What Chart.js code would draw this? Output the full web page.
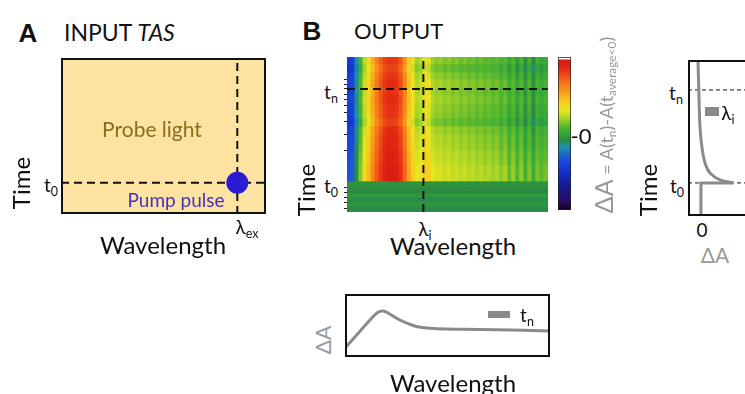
<!DOCTYPE html>
<html>
<head>
<meta charset="utf-8">
<script src="https://cdn.jsdelivr.net/npm/chart.js"></script>
<style>
    html, body { margin: 0; padding: 0; width: 745px; height: 394px; overflow: hidden; background: #fff; }
    body { position: relative; font-family: Lato, "Open Sans", sans-serif; color: #111; }
    .wrap { position: absolute; }
    .lbl { position: absolute; white-space: nowrap; line-height: 1; transform: translate(-50%, -50%); }
    .left { transform: translate(0, -50%); }
    .rot { transform: translate(-50%, -50%) rotate(-90deg); }
    .patch { position: absolute; background: #8a8a8a; }
    sub { font-size: 0.66em; vertical-align: -0.32em; line-height: 0; }
</style>
</head>
<body>
<div class="wrap" style="left:61px;top:58px"><canvas id="chartA" width="205" height="156"></canvas></div>
<div class="wrap" style="left:341px;top:57px"><canvas id="chartHeat" width="207" height="155"></canvas></div>
<div class="wrap" style="left:558px;top:57px"><canvas id="chartBar" width="13" height="153"></canvas></div>
<div class="wrap" style="left:688px;top:60px"><canvas id="chartKin" width="110" height="156"></canvas></div>
<div class="wrap" style="left:345px;top:294px"><canvas id="chartSpec" width="205" height="63"></canvas></div>

<script>
// ---- data ----
// panel A (input): wavelength / time in arbitrary units 0..100
var pumpWavelength = 86;   // lambda_ex
var pumpTime = 20;         // t0

// panel B heatmap: Delta A per wavelength column (late-time spectrum, -1..1, 0 = green)
var heatColumns = [-0.40, -0.38, -0.15, 0.08, 0.26, 0.38, 0.52, 0.64, 0.74, 0.82,
                   0.86, 0.86, 0.84, 0.76, 0.62, 0.45, 0.32, 0.22, 0.25, 0.33,
                   0.30, 0.22, 0.19, 0.20, 0.17, 0.19, 0.16, 0.18, 0.15, 0.17,
                   0.14, 0.16, 0.13, 0.15, 0.12, 0.14, 0.11, 0.13, 0.08, 0.12,
                   0.03, 0.10, 0.00, 0.09, -0.03, 0.07, -0.05, 0.06, 0.02, 0.05];
// time rows after t0 (time axis: t0 = 0) and their Delta A change
var heatRowEdges = [0, 8, 16, 23, 31, 39, 47, 55, 63, 70, 78, 86, 94, 102, 109, 117, 125];
var heatRowShift = [0.08, 0.08, 0.06, 0.05, 0.03, 0.02, 0.00, -0.06, -0.03, -0.02,
                    0.00, -0.02, 0.00, -0.03, -0.07, -0.03];
// time rows before t0 (no signal, flat bands)
var preRowEdges = [-30, -25, -20, -16, -12, -6, 0];
var preRowValues = [-0.09, -0.05, -0.09, -0.04, -0.08, -0.06];
var heatTimeTicks = [103, 98, 93, 88, 83, 77, 70, 61, 48, 32, -5, -10, -15, -20, -26];
var heatTn = 93;
var heatLambda = 38;

// colour scale of the colorbar
var jetStops = [
    [-1.00, '#14001c'], [-0.90, '#2a0a60'], [-0.70, '#141a8c'], [-0.50, '#1030c8'],
    [-0.35, '#1a4ae0'], [-0.18, '#1a90b0'], [-0.08, '#2c8a40'], [0.00, '#34a838'],
    [0.10, '#5cb82e'], [0.20, '#a8d428'], [0.30, '#e8e620'], [0.42, '#f8c820'],
    [0.55, '#f89a1c'], [0.70, '#f26418'], [0.85, '#e42a14'], [0.96, '#d81812'],
    [0.975, '#ffffff'], [1.00, '#ffffff']
];

// panel B right: kinetic trace at lambda_i (x = Delta A, y = time 0..100)
var kinStepX = [0, 0, 1.0];
var kinStepY = [0, 21.2, 21.2];
var kinDecayX = [1.0, 0.59, 0.28, 0.125, 0.03, -0.03, -0.06, -0.09];
var kinDecayY = [21.2, 23.1, 27.6, 34.0, 44.2, 57.1, 76.3, 98.7];
var kinT0 = 21.2, kinTn = 80.8;

// panel B bottom: spectrum at t_n (x = wavelength 0..100, y = Delta A 0..100)
var specX = [0, 5.7, 12.2, 16.1, 18.7, 22.0, 26.8, 31.7, 36.6, 44.7, 57.6, 74.0, 100];
var specY = [14.3, 34.9, 58.7, 71.0, 73.0, 67.8, 58.7, 51.9, 47.1, 44.9, 44.0, 43.3, 41.3];

// ---- helpers ----
function hexRgb(h) {
    return [parseInt(h.substr(1, 2), 16), parseInt(h.substr(3, 2), 16), parseInt(h.substr(5, 2), 16)];
}
function jet(v) {
    if (v <= jetStops[0][0]) return jetStops[0][1];
    for (var i = 1; i < jetStops.length; i++) {
        if (v <= jetStops[i][0]) {
            var a = hexRgb(jetStops[i - 1][1]), b = hexRgb(jetStops[i][1]);
            var f = (v - jetStops[i - 1][0]) / (jetStops[i][0] - jetStops[i - 1][0]);
            return 'rgb(' + [0, 1, 2].map(function (k) { return Math.round(a[k] + (b[k] - a[k]) * f); }).join(',') + ')';
        }
    }
    return jetStops[jetStops.length - 1][1];
}
function pts(xs, ys) {
    return xs.map(function (x, i) { return {x: x, y: ys[i]}; });
}

// fills the plot area and draws the frame
var boxPlugin = {
    id: 'box',
    beforeDraw: function (chart, args, opts) {
        var a = chart.chartArea;
        if (opts.fill) {
            chart.ctx.save();
            chart.ctx.fillStyle = opts.fill;
            chart.ctx.fillRect(a.left, a.top, a.right - a.left, a.bottom - a.top);
            chart.ctx.restore();
        }
    },
    afterDraw: function (chart, args, opts) {
        var a = chart.chartArea;
        if (opts.width) {
            var w = opts.width;
            chart.ctx.save();
            chart.ctx.strokeStyle = opts.color || '#111';
            chart.ctx.lineWidth = w;
            chart.ctx.strokeRect(a.left + w / 2, a.top + w / 2, a.right - a.left - w, a.bottom - a.top - w);
            chart.ctx.restore();
        }
    }
};

var base = {
    responsive: false,
    animation: false,
    events: [],
    layout: {padding: 0, autoPadding: false},
    plugins: {legend: {display: false}, tooltip: {enabled: false}}
};
function opts(extra) {
    return Object.assign({}, base, extra, {plugins: Object.assign({}, base.plugins, extra.plugins || {})});
}
function dashed(data, width, dash, xId, yId) {
    var d = {type: 'line', data: data, borderColor: '#111', borderWidth: width, borderDash: dash,
             pointRadius: 0, fill: false, tension: 0, order: 0};
    if (xId) d.xAxisID = xId;
    if (yId) d.yAxisID = yId;
    return d;
}

// ---- panel A ----
new Chart(document.getElementById('chartA'), {
    type: 'scatter',
    data: {
        datasets: [
            {data: [{x: pumpWavelength, y: pumpTime}], pointRadius: 11, backgroundColor: '#2b1cd4', borderWidth: 0},
            dashed([{x: 0, y: pumpTime}, {x: 100, y: pumpTime}], 2, [8, 5]),
            dashed([{x: pumpWavelength, y: 0}, {x: pumpWavelength, y: 100}], 2, [8, 5])
        ]
    },
    options: opts({
        scales: {x: {type: 'linear', min: 0, max: 100, display: false}, y: {min: 0, max: 100, display: false}},
        plugins: {box: {fill: '#fce3a2', width: 2, color: '#111'}}
    }),
    plugins: [boxPlugin]
});

// ---- panel B heatmap ----
var heatSets = [];
preRowValues.forEach(function (val, j) {
    heatSets.push({
        data: heatColumns.map(function () { return [preRowEdges[j], preRowEdges[j + 1]]; }),
        backgroundColor: jet(val)
    });
});
heatRowShift.forEach(function (shift, j) {
    heatSets.push({
        data: heatColumns.map(function () { return [heatRowEdges[j], heatRowEdges[j + 1]]; }),
        backgroundColor: heatColumns.map(function (v) { return jet(v + shift); })
    });
});
heatSets.forEach(function (d) {
    d.type = 'bar';
    d.grouped = false;
    d.barPercentage = 1;
    d.categoryPercentage = 1;
    d.borderWidth = 0;
    d.inflateAmount = 0.6;
    d.order = 1;
});
heatSets.push(dashed([{x: 0, y: heatTn}, {x: 100, y: heatTn}], 2, [8, 5], 'xw', 'y'));
heatSets.push(dashed([{x: heatLambda, y: -30}, {x: heatLambda, y: 125}], 2, [8, 5], 'xw', 'y'));

new Chart(document.getElementById('chartHeat'), {
    type: 'bar',
    data: {labels: heatColumns.map(function (v, i) { return i; }), datasets: heatSets},
    options: opts({
        scales: {
            x: {type: 'category', display: false, offset: true},
            xw: {type: 'linear', axis: 'x', min: 0, max: 100, display: false, offset: false, grid: {offset: false}},
            y: {
                type: 'linear', min: -30, max: 125, position: 'left',
                grid: {drawOnChartArea: false, drawTicks: true, tickLength: 3, color: '#222'},
                border: {display: true, color: '#444', width: 1},
                ticks: {display: false},
                afterBuildTicks: function (s) { s.ticks = heatTimeTicks.map(function (v) { return {value: v}; }); },
                afterFit: function (s) { s.width = 6; }
            }
        }
    })
});

// ---- colorbar ----
new Chart(document.getElementById('chartBar'), {
    type: 'bar',
    data: {
        labels: ['dA'],
        datasets: [{
            data: [[-1, 1]],
            barPercentage: 1,
            categoryPercentage: 1,
            borderWidth: 1,
            borderColor: '#222',
            borderSkipped: false,
            backgroundColor: function (c) {
                var ch = c.chart;
                if (!ch.chartArea) return '#34a838';
                var ys = ch.scales.y;
                var g = ch.ctx.createLinearGradient(0, ys.getPixelForValue(-1), 0, ys.getPixelForValue(1));
                jetStops.forEach(function (s) { g.addColorStop((s[0] + 1) / 2, s[1]); });
                return g;
            }
        }]
    },
    options: opts({
        scales: {x: {display: false}, y: {min: -1, max: 1, display: false}}
    })
});

// ---- kinetic trace ----
var grey = '#8a8a8a';
new Chart(document.getElementById('chartKin'), {
    type: 'line',
    data: {
        datasets: [
            {data: pts(kinStepX, kinStepY), borderColor: grey, borderWidth: 3, pointRadius: 0, tension: 0, order: 0},
            {data: pts(kinDecayX, kinDecayY), borderColor: grey, borderWidth: 3, pointRadius: 0, tension: 0.4, order: 0},
            Object.assign(dashed([{x: -0.4, y: kinTn}, {x: 3, y: kinTn}], 1, [4, 3]), {order: 1}),
            Object.assign(dashed([{x: -0.4, y: kinT0}, {x: 3, y: kinT0}], 1, [4, 3]), {order: 1})
        ]
    },
    options: opts({
        scales: {x: {type: 'linear', min: -0.4, max: 3, display: false}, y: {min: 0, max: 100, display: false}},
        plugins: {box: {width: 2, color: '#111'}}
    }),
    plugins: [boxPlugin]
});

// ---- spectrum ----
new Chart(document.getElementById('chartSpec'), {
    type: 'line',
    data: {
        datasets: [{data: pts(specX, specY), borderColor: grey, borderWidth: 3, pointRadius: 0, tension: 0.4}]
    },
    options: opts({
        scales: {x: {type: 'linear', min: 0, max: 100, display: false}, y: {min: 0, max: 100, display: false}},
        plugins: {box: {width: 2, color: '#111'}}
    }),
    plugins: [boxPlugin]
});

// ---- text ----
function label(html, x, y, css, cls) {
    var el = document.createElement('div');
    el.className = 'lbl' + (cls ? ' ' + cls : '');
    el.innerHTML = html;
    el.style.left = x + 'px';
    el.style.top = y + 'px';
    el.style.cssText += css || '';
    document.body.appendChild(el);
}
var head = 'font-family:"Liberation Sans",Arial,sans-serif;font-weight:bold;font-size:26px;';
label('A', 28, 33, head);
label('INPUT <i>TAS</i>', 64, 32, 'font-size:23px;', 'left');
label('Probe light', 152, 128, 'font-size:21px;color:#8a6d1f;');
label('Pump pulse', 176, 199, 'font-size:19px;color:#4b2fbf;');
label('t<sub>0</sub>', 51, 184, 'font-size:19px;');
label('Time', 21, 183, 'font-size:24px;', 'rot');
label('Wavelength', 163, 245, 'font-size:24px;');
label('&lambda;<sub>ex</sub>', 247, 226, 'font-size:19px;');

label('B', 312, 31, head);
label('OUTPUT', 354, 31, 'font-size:22px;', 'left');
label('t<sub>n</sub>', 331, 91, 'font-size:19px;');
label('t<sub>0</sub>', 331, 185, 'font-size:19px;');
label('Time', 306, 190, 'font-size:24px;', 'rot');
label('&lambda;<sub>i</sub>', 425, 228, 'font-size:19px;');
label('Wavelength', 453, 246, 'font-size:24px;');
label('-0', 581, 136, 'font-size:22px;');
label('<span style="font-size:25px">&Delta;A</span> = A(t<sub>n</sub>)-A(t<sub>average&lt;0</sub>)', 603, 125,
      'font-size:18px;color:#999;', 'rot');

label('t<sub>n</sub>', 676, 92, 'font-size:19px;');
label('t<sub>0</sub>', 677, 185, 'font-size:19px;');
label('Time', 648, 190, 'font-size:24px;', 'rot');
label('0', 702, 229, 'font-size:19px;');
label('&Delta;A', 715, 254, 'font-size:21px;color:#999;');
label('&lambda;<sub>i</sub>', 728, 112, 'font-size:19px;');

label('&Delta;A', 322, 340, 'font-size:21px;color:#999;', 'rot');
label('t<sub>n</sub>', 527, 314, 'font-size:19px;');
label('Wavelength', 453, 383, 'font-size:24px;');

function patch(x, y, w, h) {
    var el = document.createElement('div');
    el.className = 'patch';
    el.style.cssText += 'left:' + x + 'px;top:' + y + 'px;width:' + w + 'px;height:' + h + 'px;';
    document.body.appendChild(el);
}
patch(705, 107, 14, 9);
patch(488, 311, 22, 7);
</script>
</body>
</html>
